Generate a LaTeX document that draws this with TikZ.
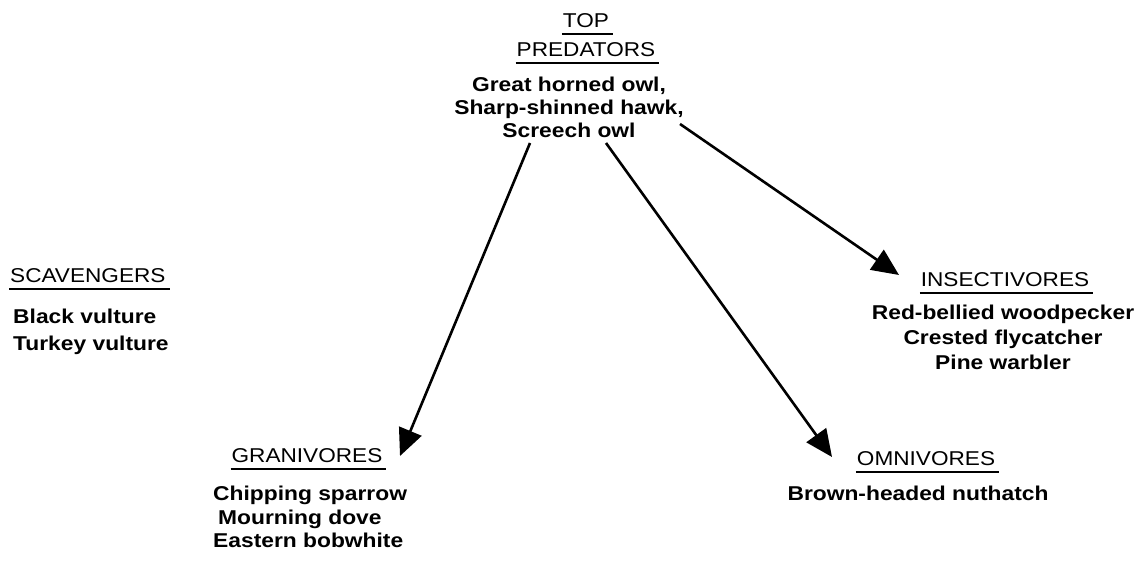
\documentclass[tikz,border=0pt]{standalone}
\usepackage{fontspec}
\setmainfont{Liberation Sans}
\newfontfamily\guildfont{Liberation Sans}[FakeStretch=1.13]
\newfontfamily\birdfont{Liberation Sans}[FakeStretch=1.14]
\usetikzlibrary{arrows.meta}
% heavy underline for the guild headings, running a little past the word
\newcommand{\guildline}[1]{\setbox0=\hbox{#1}\leavevmode\rlap{\kern-1pt\rule[-8pt]{\dimexpr\wd0+5pt\relax}{2.2pt}}\box0}
\begin{document}
\begin{tikzpicture}[x=1pt,y=-1pt,
  guild/.style={font=\guildfont\fontsize{20}{29}\selectfont, inner sep=0pt, align=center, anchor=base},
  birds/.style={font=\birdfont\bfseries\fontsize{20}{24}\selectfont, inner sep=0pt, anchor=north},
  feeds/.style={line width=2.6pt, -{Triangle[length=27pt,width=24pt]}}]
\useasboundingbox (0,0) rectangle (1147,569);

% top predators
\node[guild, anchor=north] (topH) at (586,13) {\guildline{TOP}\\\guildline{PREDATORS}};
\node[birds, align=center, font=\birdfont\bfseries\fontsize{20}{23}\selectfont] (topL) at (569,77)
  {Great horned owl,\\Sharp-shinned hawk,\\Screech owl};

% scavengers
\node[guild, anchor=base west] (scavH) at (10,282) {\guildline{SCAVENGERS}};
\node[birds, align=left, anchor=north west, font=\birdfont\bfseries\fontsize{20}{27}\selectfont] (scavL) at (13,309)
  {Black vulture\\Turkey vulture};

% insectivores
\node[guild] (insH) at (1005,286) {\guildline{INSECTIVORES}};
\node[birds, align=center, font=\birdfont\bfseries\fontsize{20}{25}\selectfont] (insL) at (1003,305)
  {Red-bellied woodpecker\\Crested flycatcher\\Pine warbler};

% granivores
\node[guild] (granH) at (307,462) {\guildline{GRANIVORES}};
\node[birds, align=left, anchor=north west, font=\birdfont\bfseries\fontsize{20}{23.5}\selectfont] (granL) at (213,486)
  {Chipping sparrow\\\hspace*{5pt}Mourning dove\\Eastern bobwhite};

% omnivores
\node[guild] (omniH) at (926,465) {\guildline{OMNIVORES}};
\node[birds, anchor=base] (omniL) at (918,500) {Brown-headed nuthatch};

% feeding links
\coordinate (aG) at (530,143);
\coordinate (aO) at (606,143);
\coordinate (aI) at (680,124);
\coordinate (tG) at (400,456);
\coordinate (tO) at (832,457);
\coordinate (tI) at (899,275);
\draw[feeds] (aG) -- (tG);
\draw[feeds] (aO) -- (tO);
\draw[feeds] (aI) -- (tI);
\end{tikzpicture}
\end{document}
